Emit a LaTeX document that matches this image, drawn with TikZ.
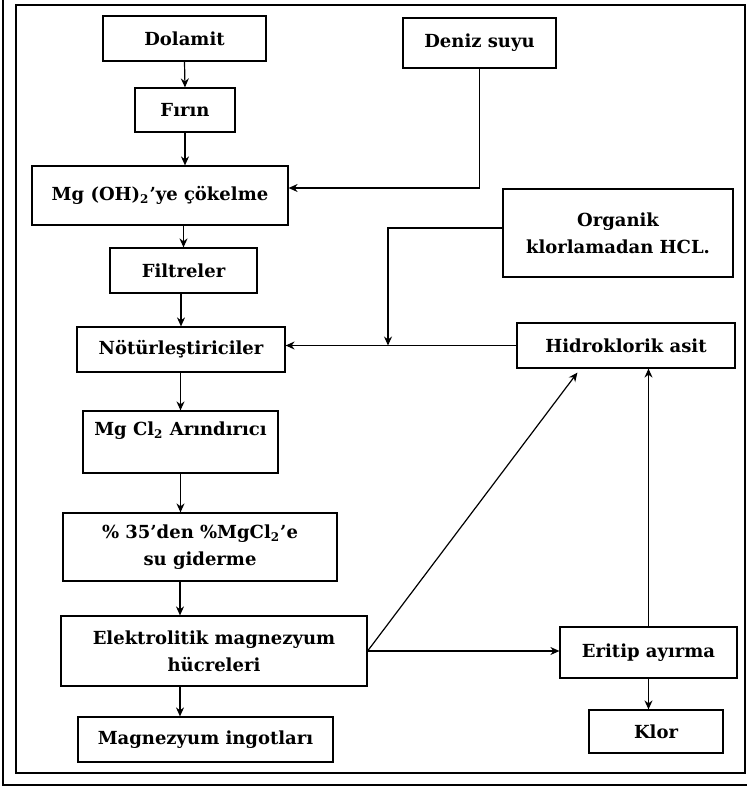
\documentclass[tikz,border=0pt]{standalone}
\usepackage{fontspec}
\setmainfont{DejaVu Serif}
\usetikzlibrary{arrows.meta,positioning}
\tikzstyle{block} = [rectangle, draw=black, line width=0.6pt, inner sep=0pt, align=center, font=\bfseries\fontsize{9}{13.5}\selectfont]
\tikzstyle{arrow} = [line width=0.6pt, -{Stealth[length=4.5pt,width=4pt]}]

\begin{document}
\begin{tikzpicture}[x=0.5pt, y=-0.5pt]
                \useasboundingbox (0,0) rectangle (747,788);
                % cerceve
                \draw[line width=0.8pt] (16,5) rectangle (745,773);
                \draw[line width=0.8pt] (3,0) -- (3,785) -- (747,785);

                \node[block, minimum width=81.5pt, minimum height=22.5pt] (dolamit) at (184.5,38.5) {Dolamit};
                \node[block, minimum width=50pt, minimum height=22pt] (firin) at (185,110) {Fırın};
                \node[block, minimum width=128pt, minimum height=29.5pt] (cokelme) at (160,195.5) {Mg (OH)\textsubscript{2}’ye çökelme};
                \node[block, minimum width=76.5pt, minimum height=25pt] (deniz) at (479.5,43) {Deniz suyu};
                \node[block, minimum width=115pt, minimum height=44pt] (organik) at (618,233) {Organik\\klorlamadan HCL.};
                \node[block, minimum width=73.5pt, minimum height=22.5pt] (filtre) at (183.5,270.5) {Filtreler};
                \node[block, minimum width=104pt, minimum height=22.5pt] (notr) at (181,349.5) {Nötürleştiriciler};
                \node[block, minimum width=109pt, minimum height=22.5pt] (hcl) at (626,345.5) {Hidroklorik asit};
                \node[block, minimum width=97.5pt, minimum height=31pt] (arindirici) at (180.5,442) {Mg Cl\textsubscript{2} Arındırıcı\\\mbox{}};
                \node[block, minimum width=137pt, minimum height=34pt] (su) at (200,547) {\% 35’den \%MgCl\textsubscript{2}’e\\su giderme};
                \node[block, minimum width=153pt, minimum height=35pt] (elektro) at (214,651) {Elektrolitik magnezyum\\hücreleri};
                \node[block, minimum width=127.5pt, minimum height=22.5pt] (ingot) at (205.5,739.5) {Magnezyum ingotları};
                \node[block, minimum width=88.5pt, minimum height=25.5pt] (eritip) at (648.5,652.5) {Eritip ayırma};
                \node[block, minimum width=67pt, minimum height=21.5pt] (klor) at (656,731.5) {Klor};
                \coordinate (kavsak) at (388,345.5);

                \draw[arrow] (dolamit.south) -- (firin.north);
                \draw[arrow] (firin.south) -- (firin.south |- cokelme.north);
                \draw[arrow] (filtre.north |- cokelme.south) -- (filtre.north);
                \draw[arrow] (notr.north |- filtre.south) -- (notr.north);
                \draw[arrow] (arindirici.north |- notr.south) -- (arindirici.north);
                \draw[arrow] (arindirici.south) -- (arindirici.south |- su.north);
                \draw[arrow] ([xshift=-10pt]su.south) -- ([xshift=-10pt]su.south |- elektro.north);
                \draw[arrow] ([xshift=-17pt]elektro.south) -- ([xshift=-17pt]elektro.south |- ingot.north);
                \draw[arrow] (deniz.south) |- ([yshift=3.75pt]cokelme.east);
                \draw[arrow] (hcl.west) -- (hcl.west -| notr.east);
                \draw[arrow] ([yshift=2.5pt]organik.west) -| (kavsak);
                \draw[arrow] (elektro.east) -- ([xshift=30.5pt,yshift=-2pt]hcl.south west);
                \draw[arrow] (elektro.east) -- (elektro.east -| eritip.west);
                \draw[arrow] (eritip.north) -- (eritip.north |- hcl.south);
                \draw[arrow] (eritip.south) -- (eritip.south |- klor.north);
            \end{tikzpicture}
\end{document}
